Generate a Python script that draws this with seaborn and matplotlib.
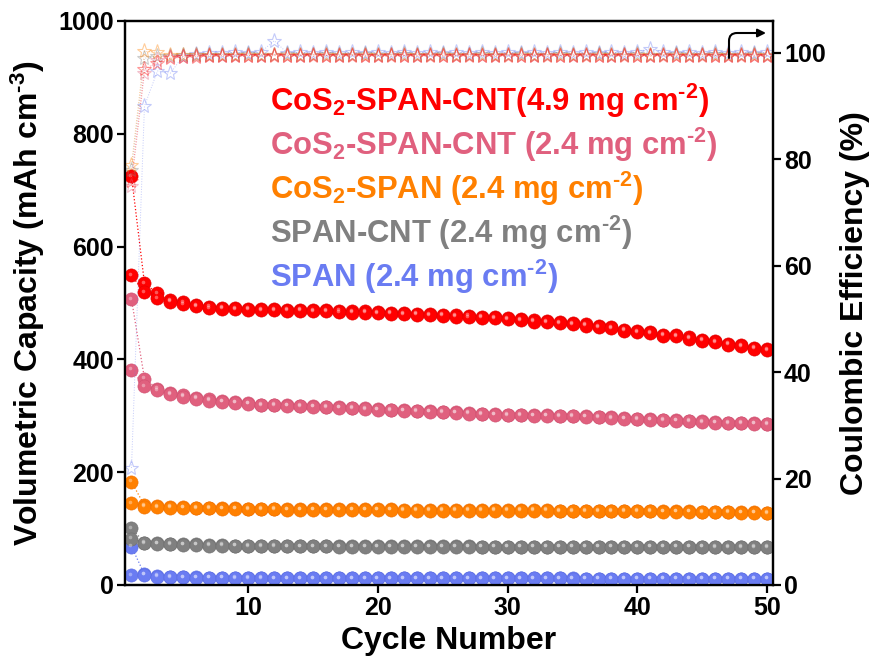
import numpy as np
import pandas as pd
import seaborn as sns
import matplotlib
matplotlib.use("Agg")
import matplotlib.pyplot as plt
from matplotlib.transforms import offset_copy

# ---------------- data ----------------
cycles = list(range(1, 51))

red_dis = [725, 535, 517, 505, 501, 496, 493, 492, 491, 490, 489, 489, 488, 488, 487, 487, 486, 485, 485, 484,
           483, 482, 481, 480, 479, 478, 477, 476, 475, 473, 471, 469, 468, 466, 464, 462, 459, 457, 453, 450,
           448, 444, 443, 439, 435, 432, 428, 425, 421, 418]
red_chg = [549, 519, 508, 502, 498, 494, 491, 490, 489, 488, 487, 487, 486, 486, 485, 485, 484, 483, 483, 482,
           481, 480, 479, 478, 477, 476, 475, 474, 473, 471, 469, 467, 466, 464, 462, 460, 457, 455, 451, 448,
           446, 442, 441, 437, 433, 430, 426, 423, 419, 416]

pink_dis = [507, 366, 348, 340, 336, 332, 329, 326, 324, 322, 320, 320, 319, 318, 317, 316, 315, 314, 313, 312,
            311, 310, 309, 308, 307, 306, 305, 304, 303, 302, 302, 301, 301, 300, 300, 299, 298, 297, 296, 295,
            294, 293, 292, 291, 290, 289, 288, 288, 287, 286]
pink_chg = [382, 352, 345, 338, 334, 330, 327, 325, 323, 321, 319, 319, 318, 317, 316, 315, 314, 313, 312, 311,
            310, 309, 308, 307, 306, 305, 304, 303, 302, 301, 301, 300, 300, 299, 299, 298, 297, 296, 295, 294,
            293, 292, 291, 290, 289, 288, 287, 287, 286, 285]

orange_dis = [183, 141, 140, 139, 138, 137, 137, 136, 136, 135, 135, 135, 134, 134, 134, 134, 134, 134, 134, 134,
              134, 133, 133, 133, 133, 133, 133, 133, 133, 133, 133, 133, 133, 132, 132, 132, 132, 132, 132, 132,
              132, 131, 131, 131, 130, 130, 130, 129, 129, 128]
orange_chg = [145, 139, 138, 137, 137, 136, 136, 135, 135, 134, 134, 134, 133, 133, 133, 133, 133, 133, 133, 133,
              133, 132, 132, 132, 132, 132, 132, 132, 132, 132, 132, 132, 132, 131, 131, 131, 131, 131, 131, 131,
              131, 130, 130, 130, 129, 129, 129, 128, 128, 127]

grey_dis = [101, 75, 74, 73, 72, 72, 71, 71, 70, 70, 70, 70, 69, 69, 69, 69, 69, 69, 69, 69,
            69, 69, 69, 69, 69, 69, 69, 68, 68, 68, 68, 68, 68, 68, 68, 68, 68, 68, 68, 68,
            68, 68, 68, 68, 68, 68, 68, 68, 68, 68]
grey_chg = [82, 74, 73, 72, 71, 71, 70, 70, 70, 69, 69, 69, 69, 69, 69, 69, 68, 68, 68, 68,
            68, 68, 68, 68, 68, 68, 68, 68, 68, 68, 68, 68, 68, 68, 68, 68, 68, 68, 68, 68,
            68, 68, 68, 68, 68, 67, 67, 67, 67, 67]

blue_dis = [68, 19, 16, 15, 14, 14, 13, 13, 13, 13, 13, 12, 12, 12, 12, 12, 12, 12, 12, 12,
            12, 12, 12, 12, 12, 12, 12, 12, 12, 12, 12, 12, 12, 12, 12, 11, 11, 11, 11, 11,
            11, 11, 11, 11, 11, 11, 11, 11, 11, 11]
blue_chg = [17, 18, 15, 14, 14, 13, 13, 13, 12, 12, 12, 12, 12, 12, 12, 12, 12, 12, 12, 12,
            12, 12, 12, 12, 12, 12, 12, 12, 12, 12, 12, 12, 12, 12, 11, 11, 11, 11, 11, 11,
            11, 11, 11, 11, 11, 11, 11, 11, 11, 11]

red_ce = [76, 97.0, 98.2, 99.0, 99.2, 99.3, 99.4, 99.4, 99.4, 99.5, 99.4, 99.5, 99.4, 99.5, 99.4, 99.5, 99.4, 99.5,
          99.4, 99.5, 99.4, 99.5, 99.4, 99.5, 99.4, 99.5, 99.4, 99.5, 99.4, 99.5, 99.4, 99.5, 99.4, 99.5, 99.4, 99.5,
          99.4, 99.5, 99.4, 99.5, 99.4, 99.5, 99.4, 99.5, 99.4, 99.5, 99.4, 99.5, 99.4, 99.5]
pink_ce = [75, 96.2, 98.6, 99.2, 99.3, 99.4, 99.4, 99.5, 99.5, 99.5, 99.5, 99.6, 99.5, 99.5, 99.6, 99.5, 99.5, 99.6,
           99.5, 99.5, 99.6, 99.5, 99.5, 99.6, 99.5, 99.5, 99.6, 99.5, 99.5, 99.6, 99.5, 99.5, 99.6, 99.5, 99.5, 99.6,
           99.5, 99.5, 99.6, 99.5, 99.5, 99.6, 99.5, 99.5, 99.6, 99.5, 99.5, 99.6, 99.5, 99.5]
orange_ce = [79, 100.3, 100.1, 99.6, 99.6, 99.7, 99.6, 99.6, 99.7, 99.6, 99.6, 99.7, 99.6, 99.6, 99.7, 99.6, 99.6,
             99.7, 99.6, 99.6, 99.7, 99.6, 99.6, 99.7, 99.6, 99.6, 99.7, 99.6, 99.6, 99.7, 99.6, 99.6, 99.7, 99.6,
             99.6, 99.7, 99.6, 99.6, 99.7, 99.6, 99.6, 99.7, 99.6, 99.6, 99.7, 99.6, 99.6, 99.7, 99.6, 99.6]
grey_ce = [78, 99.0, 99.4, 99.5, 99.6, 99.6, 99.7, 99.7, 99.7, 99.8, 99.7, 99.7, 99.8, 99.7, 99.7, 99.8, 99.7, 99.7,
           99.8, 99.7, 99.7, 99.8, 99.7, 99.7, 99.8, 99.7, 99.7, 99.8, 99.7, 99.7, 99.8, 99.7, 99.7, 99.8, 99.7, 99.7,
           99.8, 99.7, 99.7, 99.8, 99.7, 99.7, 99.8, 99.7, 99.7, 99.8, 99.7, 99.7, 99.8, 99.7]
blue_ce = [22, 90.0, 96.6, 96.2, 99.5, 99.8, 99.9, 100.0, 100.1, 100.0, 100.2, 102.3, 100.0, 100.1, 100.0, 100.2,
           100.0, 100.1, 100.0, 100.2, 100.0, 100.1, 100.0, 100.2, 100.0, 100.1, 100.0, 100.2, 100.0, 100.1, 100.0,
           100.2, 100.0, 100.1, 100.0, 100.2, 100.0, 100.1, 100.0, 100.2, 100.8, 100.1, 100.0, 100.2, 100.0, 100.1,
           100.0, 100.2, 100.0, 100.1]

labels = ["CoS$_{2}$-SPAN-CNT(4.9 mg cm$^{\\text{-2}}$)",
          "CoS$_{2}$-SPAN-CNT (2.4 mg cm$^{\\text{-2}}$)",
          "CoS$_{2}$-SPAN (2.4 mg cm$^{\\text{-2}}$)",
          "SPAN-CNT (2.4 mg cm$^{\\text{-2}}$)",
          "SPAN (2.4 mg cm$^{\\text{-2}}$)"]
colors = ["#FF0000", "#E0607E", "#FF8000", "#808080", "#6A7CF2"]
edge_colors = ["#E00000", "#D05070", "#F07000", "#707070", "#5A6CE2"]
text_colors = ["#FF0000", "#E0607E", "#FF8000", "#808080", "#6A7CF2"]

x_ticks = [10, 20, 30, 40, 50]
y_ticks = [0, 200, 400, 600, 800, 1000]
y2_ticks = [0, 20, 40, 60, 80, 100]

# ---------------- style ----------------
sns.set_theme(style="ticks")
plt.rcParams["font.family"] = ["Liberation Sans", "DejaVu Sans"]
plt.rcParams["font.weight"] = "bold"
plt.rcParams["text.color"] = "black"
plt.rcParams["axes.labelcolor"] = "black"
plt.rcParams["mathtext.fontset"] = "custom"
plt.rcParams["mathtext.rm"] = "Liberation Sans:bold"
plt.rcParams["mathtext.it"] = "Liberation Sans:bold:italic"
plt.rcParams["mathtext.bf"] = "Liberation Sans:bold"
plt.rcParams["mathtext.default"] = "rm"

fig = plt.figure(figsize=(8.73, 6.6), dpi=100)
fig.patch.set_facecolor("white")
ax = fig.add_axes([125 / 873, 1 - 585 / 660, (773 - 125) / 873, (585 - 21) / 660])
ax2 = ax.twinx()

caps = [(red_dis, red_chg), (pink_dis, pink_chg), (orange_dis, orange_chg),
        (grey_dis, grey_chg), (blue_dis, blue_chg)]
ces = [red_ce, pink_ce, orange_ce, grey_ce, blue_ce]

hl = offset_copy(ax.transData, fig=fig, x=-1.5, y=1.5, units="dots")

for i in range(4, -1, -1):
    for ser in caps[i]:
        df = pd.DataFrame({"cycle": cycles, "cap": ser})
        sns.lineplot(data=df, x="cycle", y="cap", ax=ax, color=colors[i], linestyle=":",
                     linewidth=0.9, marker="o", markersize=9.5, markeredgecolor=edge_colors[i],
                     markeredgewidth=0.4, estimator=None, sort=False, zorder=3)
        ax.plot(cycles, ser, ls="none", marker="o", ms=2.6, color="white", alpha=0.35,
                mew=0, transform=hl, zorder=4)

for i in range(4, -1, -1):
    df = pd.DataFrame({"cycle": cycles, "ce": ces[i]})
    sns.lineplot(data=df, x="cycle", y="ce", ax=ax2, color=colors[i], linestyle=":",
                 linewidth=0.7, alpha=0.4, marker="*", markersize=11, markerfacecolor="none",
                 markeredgecolor=colors[i], markeredgewidth=0.8, estimator=None, sort=False)

ax.set_xlim(0.5, 50.45)
ax.set_ylim(0, 1000)
ax2.set_ylim(0, 106)
ax.set_xticks(x_ticks)
ax.set_yticks(y_ticks)
ax2.set_yticks(y2_ticks)

for a in (ax, ax2):
    for s in a.spines.values():
        s.set_linewidth(1.6)
        s.set_color("black")
    a.tick_params(width=1.6, length=6, labelsize=18, colors="black", direction="out")
    for lab in a.get_xticklabels() + a.get_yticklabels():
        lab.set_fontweight("bold")
ax.tick_params(axis="x", pad=2)
ax.tick_params(axis="y", pad=2)
ax2.tick_params(axis="y", pad=2)

ax.set_xlabel("Cycle Number", fontsize=23, fontweight="bold", labelpad=4, color="black")
ax.set_ylabel("Volumetric Capacity (mAh cm$^{\\text{-3}}$)", fontsize=23, fontweight="bold",
              labelpad=8, color="black")
ax2.set_ylabel("Coulombic Efficiency (%)", fontsize=23, fontweight="bold", labelpad=10, color="black")
ax2.set_xlabel("")

# legend-like colored texts
baselines = [111, 155, 199, 243, 287]
for lab, col, yb in zip(labels, text_colors, baselines):
    fig.text(270 / 873, 1 - yb / 660, lab, color=col, fontsize=22.3, fontweight="bold",
             ha="left", va="baseline")

# curved arrow pointing to the right axis
ax2.annotate("", xy=(766 / 873, 1 - 33 / 660), xytext=(729 / 873, 1 - 58 / 660),
             xycoords="figure fraction", textcoords="figure fraction",
             arrowprops=dict(arrowstyle="-|>", color="black", lw=1.5, mutation_scale=12,
                             connectionstyle="angle,angleA=90,angleB=180,rad=8",
                             shrinkA=0, shrinkB=0))

fig.savefig("out.png", dpi=100, facecolor="white")
